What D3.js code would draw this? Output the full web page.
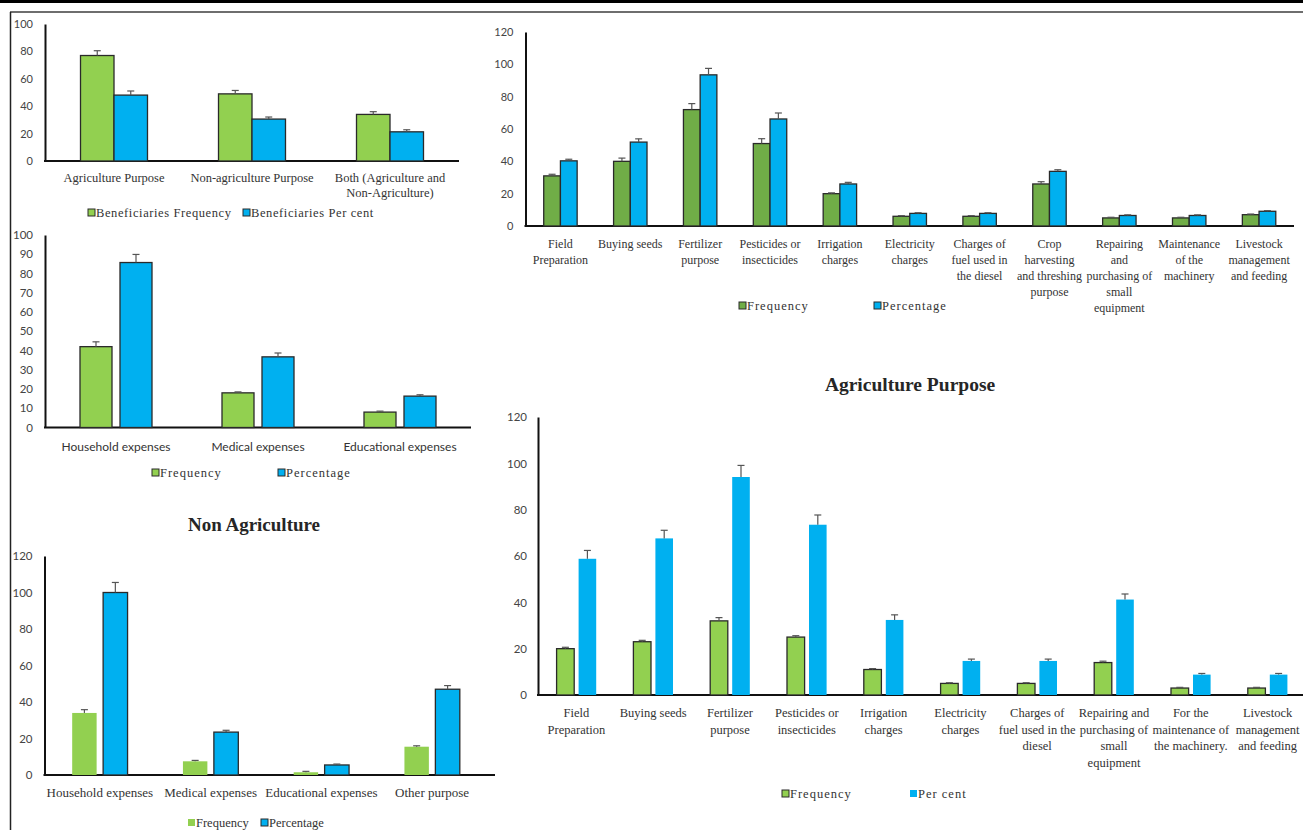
<!DOCTYPE html>
<html>
<head>
<meta charset="utf-8">
<script src="https://cdnjs.cloudflare.com/ajax/libs/d3/7.8.5/d3.min.js"></script>
<style>
  html, body { margin: 0; padding: 0; background: #fff; }
  svg { display: block; }
</style>
</head>
<body>
<svg id="fig" width="1303" height="830"></svg>
<script>
// ---- data ----
const benCategories = ["Agriculture Purpose", "Non-agriculture Purpose", "Both (Agriculture and\nNon-Agriculture)"];
const benFrequency = [77, 49, 34];
const benPercent = [48.1, 30.6, 21.3];
const benFreqErr = [3.5, 2.5, 2];
const benPctErr = [3, 1.5, 1.5];

const useCategories = ["Household expenses", "Medical expenses", "Educational expenses"];
const useFrequency = [42, 18, 8];
const usePercent = [85.7, 36.7, 16.3];
const useFreqErr = [2.5, 0.5, 0.5];
const usePctErr = [4.2, 2, 0.7];

const nonAgCategories = ["Household expenses", "Medical expenses", "Educational expenses", "Other purpose"];
const nonAgFrequency = [34, 7.5, 1.5, 15.5];
const nonAgPercent = [100, 23.5, 5.5, 47];
const nonAgFreqErr = [1.8, 0.5, 0.5, 0.5];
const nonAgPctErr = [5.5, 1, 0.5, 2];

const agriCategories = ["Field\nPreparation", "Buying seeds", "Fertilizer\npurpose", "Pesticides or\ninsecticides",
  "Irrigation\ncharges", "Electricity\ncharges", "Charges of\nfuel used in\nthe diesel",
  "Crop\nharvesting\nand threshing\npurpose", "Repairing\nand\npurchasing of\nsmall\nequipment",
  "Maintenance\nof the\nmachinery", "Livestock\nmanagement\nand feeding"];
const agriFrequency = [31, 40, 72, 51, 20, 6, 6, 26, 5, 5, 7];
const agriPercent = [40.3, 51.9, 93.5, 66.2, 26, 7.8, 7.8, 33.8, 6.5, 6.5, 9.1];
const agriFreqErr = [1, 2, 3.7, 3, 0.5, 0.4, 0.4, 1.4, 0.4, 0.4, 0.4];
const agriPctErr = [1, 2, 4, 3.7, 1, 0.4, 0.4, 1, 0.4, 0.4, 0.4];

const agPurposeCategories = ["Field\nPreparation", "Buying seeds", "Fertilizer\npurpose", "Pesticides or\ninsecticides",
  "Irrigation\ncharges", "Electricity\ncharges", "Charges of\nfuel used in the\ndiesel",
  "Repairing and\npurchasing of\nsmall\nequipment", "For the\nmaintenance of\nthe machinery.", "Livestock\nmanagement\nand feeding"];
const agPurposeFrequency = [20, 23, 32, 25, 11, 5, 5, 14, 3, 3];
const agPurposePercent = [58.8, 67.6, 94.1, 73.5, 32.4, 14.7, 14.7, 41.2, 8.8, 8.8];
const agPurposeFreqErr = [0.6, 0.6, 1.4, 0.6, 0.4, 0.3, 0.3, 0.6, 0.3, 0.3];
const agPurposePctErr = [3.6, 3.5, 5, 4.2, 2.2, 0.8, 0.8, 2.4, 0.5, 0.5];

const SERIF = "'Liberation Serif', 'Times New Roman', serif";
const SANS = "Lato, 'Liberation Sans', sans-serif";
const lightGreen = "#92d050", darkGreen = "#70ad47", blue = "#00b0f0";

const svg = d3.select("#fig");

// page frame
svg.append("rect").attr("x", 0).attr("y", 0).attr("width", 1303).attr("height", 3).attr("fill", "#000");
svg.append("line").attr("x1", 10).attr("x2", 1303).attr("y1", 12).attr("y2", 12)
  .attr("stroke", "#6e6e6e").attr("stroke-width", 2);
svg.append("line").attr("x1", 10.5).attr("x2", 10.5).attr("y1", 12).attr("y2", 830)
  .attr("stroke", "#222").attr("stroke-width", 1.5);

function drawChart(c) {
  const g = svg.append("g");
  const x0 = d3.scaleBand().domain(c.categories).range(c.xRange).paddingInner(0).paddingOuter(0);
  const x1 = d3.scaleBand().domain(["freq", "pct"]).range([0, x0.bandwidth()])
    .paddingInner(c.gap).paddingOuter(c.outer);
  const y = d3.scaleLinear().domain([0, c.yMax]).range(c.yRange);

  // y axis
  const ya = g.append("g").attr("transform", `translate(${c.xRange[0]},0)`)
    .call(d3.axisLeft(y).tickValues(d3.range(0, c.yMax + 1, c.yStep)).tickSize(0).tickSizeOuter(0).tickPadding(c.tickPad));
  ya.select(".domain").attr("stroke", "#111").attr("stroke-width", 2);
  ya.selectAll("text").attr("font-family", SANS).attr("font-size", c.tickSize).attr("fill", "#444");

  // baseline
  g.append("line").attr("x1", c.xRange[0] - 1).attr("x2", c.axisEnd || c.xRange[1])
    .attr("y1", y(0)).attr("y2", y(0)).attr("stroke", "#111").attr("stroke-width", 2);

  const series = [
    { key: "freq", values: c.frequency, err: c.freqErr, color: c.freqColor, outline: c.freqOutline },
    { key: "pct", values: c.percent, err: c.pctErr, color: c.pctColor, outline: c.pctOutline }
  ];

  series.forEach(s => {
    const rows = c.categories.map((cat, i) => ({ cat, v: s.values[i], e: s.err[i] }));
    g.append("g").selectAll("rect").data(rows).join("rect")
      .attr("x", d => x0(d.cat) + x1(s.key))
      .attr("y", d => y(d.v))
      .attr("width", x1.bandwidth())
      .attr("height", d => y(0) - y(d.v))
      .attr("fill", s.color)
      .attr("stroke", s.outline ? "#2a2a2a" : "none")
      .attr("stroke-width", 1.3);

    const eb = g.append("g").attr("stroke", "#555").attr("stroke-width", 1.2);
    rows.forEach(d => {
      const cx = x0(d.cat) + x1(s.key) + x1.bandwidth() / 2;
      eb.append("line").attr("x1", cx).attr("x2", cx).attr("y1", y(d.v)).attr("y2", y(d.v + d.e));
      eb.append("line").attr("x1", cx - 3.5).attr("x2", cx + 3.5).attr("y1", y(d.v + d.e)).attr("y2", y(d.v + d.e));
    });
  });

  // category labels
  c.categories.forEach(cat => {
    const t = g.append("text")
      .attr("x", x0(cat) + x0.bandwidth() / 2)
      .attr("y", c.labelY)
      .attr("text-anchor", "middle")
      .attr("font-family", c.labelFont)
      .attr("font-size", c.labelSize)
      .attr("fill", "#333");
    cat.split("\n").forEach((line, k) => {
      t.append("tspan").attr("x", x0(cat) + x0.bandwidth() / 2).attr("dy", k === 0 ? 0 : c.lineH).text(line);
    });
  });

  // legend
  c.legend.forEach(l => {
    g.append("rect").attr("x", l.x).attr("y", c.legendY - 4).attr("width", 7).attr("height", 7)
      .attr("fill", l.color).attr("stroke", l.outline ? "#2a2a2a" : "none").attr("stroke-width", 1);
    g.append("text").attr("x", l.x + 8).attr("y", c.legendY + 4)
      .attr("font-family", SERIF).attr("font-size", 12.5)
      .attr("letter-spacing", c.legendSpacing)
      .attr("fill", "#333").text(l.label);
  });

  if (c.title) {
    g.append("text").attr("x", c.title.x).attr("y", c.title.y).attr("text-anchor", "middle")
      .attr("font-family", SERIF).attr("font-weight", "bold").attr("font-size", c.title.size)
      .attr("fill", "#262626").text(c.title.text);
  }
}

// beneficiaries (top left)
drawChart({
  categories: benCategories, frequency: benFrequency, percent: benPercent,
  freqErr: benFreqErr, pctErr: benPctErr,
  xRange: [45, 459], gap: 0, outer: 1.06,
  yMax: 100, yStep: 20, yRange: [161, 24], tickPad: 12, tickSize: 11,
  freqColor: lightGreen, pctColor: blue, freqOutline: true, pctOutline: true,
  labelY: 182, labelFont: SERIF, labelSize: 12.5, lineH: 15,
  legendY: 213, legendSpacing: 0.6,
  legend: [
    { x: 88, color: lightGreen, outline: true, label: "Beneficiaries Frequency" },
    { x: 243, color: blue, outline: true, label: "Beneficiaries Per cent" }
  ]
});

// non-agriculture use (middle left)
drawChart({
  categories: useCategories, frequency: useFrequency, percent: usePercent,
  freqErr: useFreqErr, pctErr: usePctErr,
  xRange: [45, 471], gap: 0.2, outer: 0.875,
  yMax: 100, yStep: 10, yRange: [427.5, 235], tickPad: 12, tickSize: 11.5,
  freqColor: lightGreen, pctColor: blue, freqOutline: true, pctOutline: true,
  labelY: 451, labelFont: SANS, labelSize: 12, lineH: 15,
  legendY: 473, legendSpacing: 1,
  legend: [
    { x: 152, color: lightGreen, outline: true, label: "Frequency" },
    { x: 278, color: blue, outline: true, label: "Percentage" }
  ]
});

// Non Agriculture (bottom left)
drawChart({
  categories: nonAgCategories, frequency: nonAgFrequency, percent: nonAgPercent,
  freqErr: nonAgFreqErr, pctErr: nonAgPctErr,
  xRange: [44.5, 487.5], axisEnd: 495, gap: 0.21, outer: 0.895,
  yMax: 120, yStep: 20, yRange: [775, 556], tickPad: 12, tickSize: 11.5,
  freqColor: lightGreen, pctColor: blue, freqOutline: false, pctOutline: true,
  labelY: 797, labelFont: SERIF, labelSize: 13, lineH: 15,
  legendY: 823, legendSpacing: 0,
  legend: [
    { x: 188, color: lightGreen, outline: false, label: "Frequency" },
    { x: 261, color: blue, outline: true, label: "Percentage" }
  ],
  title: { text: "Non Agriculture", x: 254, y: 531, size: 19 }
});

// agriculture items (top right)
drawChart({
  categories: agriCategories, frequency: agriFrequency, percent: agriPercent,
  freqErr: agriFreqErr, pctErr: agriPctErr,
  xRange: [525.5, 1294], gap: 0, outer: 1.09,
  yMax: 120, yStep: 20, yRange: [226, 32], tickPad: 12, tickSize: 11,
  freqColor: darkGreen, pctColor: blue, freqOutline: true, pctOutline: true,
  labelY: 248, labelFont: SERIF, labelSize: 12, lineH: 16,
  legendY: 306, legendSpacing: 1,
  legend: [
    { x: 739, color: darkGreen, outline: true, label: "Frequency" },
    { x: 874, color: blue, outline: true, label: "Percentage" }
  ]
});

// Agriculture Purpose (bottom right)
drawChart({
  categories: agPurposeCategories, frequency: agPurposeFrequency, percent: agPurposePercent,
  freqErr: agPurposeFreqErr, pctErr: agPurposePctErr,
  xRange: [538, 1306], axisEnd: 1303, gap: 0.2, outer: 0.845,
  yMax: 120, yStep: 20, yRange: [695, 417], tickPad: 11, tickSize: 11.5,
  freqColor: lightGreen, pctColor: blue, freqOutline: true, pctOutline: false,
  labelY: 717, labelFont: SERIF, labelSize: 12.5, lineH: 16.5,
  legendY: 794, legendSpacing: 1,
  legend: [
    { x: 782, color: lightGreen, outline: true, label: "Frequency" },
    { x: 910, color: blue, outline: false, label: "Per cent" }
  ],
  title: { text: "Agriculture Purpose", x: 910, y: 391, size: 19.5 }
});
</script>
</body>
</html>
